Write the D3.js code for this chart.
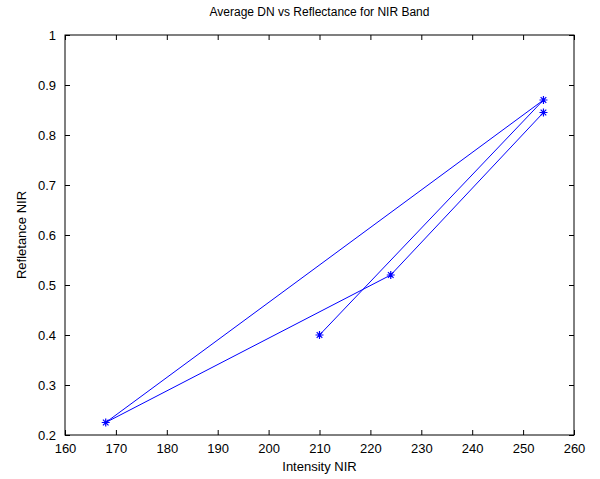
<!DOCTYPE html>
<html>
<head>
<meta charset="utf-8">
<script src="https://cdn.jsdelivr.net/npm/d3@7"></script>
<style>
  body { margin: 0; background: #fff; }
  svg { display: block; font-family: "Liberation Sans", Arial, sans-serif; }
</style>
</head>
<body>
<svg id="chart" width="600" height="479"></svg>
<script>
// data, in plotting order
const intensity = [210, 254, 168, 224, 254];
const reflectance = [0.40, 0.87, 0.225, 0.52, 0.845];
const xTicks = [160, 170, 180, 190, 200, 210, 220, 230, 240, 250, 260];
const yTicks = [0.2, 0.3, 0.4, 0.5, 0.6, 0.7, 0.8, 0.9, 1];

const svg = d3.select("#chart");
const margin = { left: 65, right: 26, top: 35, bottom: 44 };
const width = 600 - margin.left - margin.right;
const height = 479 - margin.top - margin.bottom;

const x = d3.scaleLinear().domain([160, 260]).range([0, width]);
const y = d3.scaleLinear().domain([0.2, 1]).range([height, 0]);

const g = svg.append("g").attr("transform", `translate(${margin.left},${margin.top})`);

// ticks inside, on all four sides
const tickLen = 5;
g.append("g").attr("transform", `translate(0,${height})`)
    .call(d3.axisBottom(x).tickValues(xTicks).tickSize(-tickLen).tickPadding(9).tickFormat(d3.format("d")));
g.append("g")
    .call(d3.axisTop(x).tickValues(xTicks).tickSize(-tickLen).tickFormat(""));
g.append("g")
    .call(d3.axisLeft(y).tickValues(yTicks).tickSize(-tickLen).tickPadding(9).tickFormat(d => d === 1 ? "1" : d3.format(".1f")(d)));
g.append("g").attr("transform", `translate(${width},0)`)
    .call(d3.axisRight(y).tickValues(yTicks).tickSize(-tickLen).tickFormat(""));

g.selectAll(".domain").remove();
g.selectAll(".tick line").attr("stroke", "#000");
g.selectAll(".tick text").attr("fill", "#000").style("font-size", "13px");

g.append("rect")
    .attr("width", width).attr("height", height)
    .attr("fill", "none").attr("stroke", "#000").attr("stroke-width", 1);

const pts = intensity.map((v, i) => [v, reflectance[i]]);

g.append("path")
    .datum(pts)
    .attr("fill", "none")
    .attr("stroke", "#0000ff")
    .attr("stroke-width", 1)
    .attr("d", d3.line().x(d => x(d[0])).y(d => y(d[1])));

// asterisk markers
const r = 4;
const star = `M${-r},0H${r}M0,${-r}V${r}M${-r * 0.7},${-r * 0.7}L${r * 0.7},${r * 0.7}M${-r * 0.7},${r * 0.7}L${r * 0.7},${-r * 0.7}`;
g.selectAll(".marker")
    .data(pts)
    .join("path")
    .attr("class", "marker")
    .attr("transform", d => `translate(${x(d[0])},${y(d[1])})`)
    .attr("d", star)
    .attr("fill", "none")
    .attr("stroke", "#0000ff")
    .attr("stroke-width", 1.2);

svg.append("text")
    .attr("x", margin.left + width / 2).attr("y", 16)
    .attr("text-anchor", "middle")
    .style("font-size", "12px")
    .text("Average DN vs Reflectance for NIR Band");

svg.append("text")
    .attr("x", margin.left + width / 2).attr("y", 471)
    .attr("text-anchor", "middle")
    .style("font-size", "13px")
    .text("Intensity NIR");

svg.append("text")
    .attr("transform", `translate(26,${margin.top + height / 2}) rotate(-90)`)
    .attr("text-anchor", "middle")
    .style("font-size", "13px")
    .text("Refletance NIR");
</script>
</body>
</html>
